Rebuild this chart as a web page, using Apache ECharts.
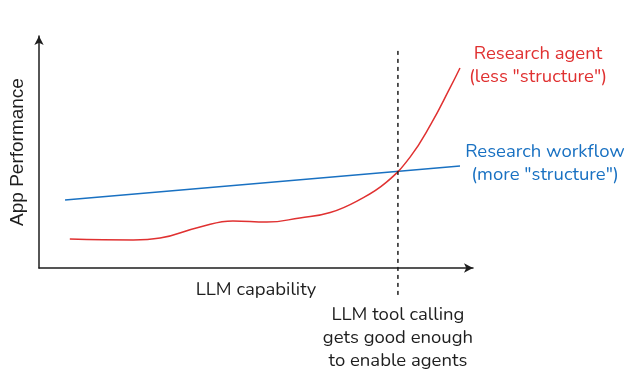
<!DOCTYPE html>
<html>
<head>
<meta charset="utf-8">
<style>
  html, body { margin: 0; padding: 0; background: #fff; }
  #main { width: 637px; height: 376px; }
</style>
</head>
<body>
<div id="main"></div>
<script src="https://cdn.jsdelivr.net/npm/echarts@6/dist/echarts.min.js"></script>
<script>
// sketch units: x and y both run 0..100 along the axes
var agentPoints = [
  [7.1, 12.5], [21.7, 12.1], [27.9, 12.9],
  [37.1, 17.7], [44.7, 20.3], [52.5, 19.8], [60.1, 21.6], [67.1, 23.9],
  [74.0, 29.6], [80.0, 36.9], [85.5, 47.8], [90.3, 62.0], [94.7, 77.6], [97.0, 86.2]
];
var workflowPoints = [[6.0, 29.3], [97.0, 44.0]];
var thresholdX = 82.7;
var thresholdSpan = [-11.6, 94.8];

var xName = 'LLM capability';
var yName = 'App Performance';
var agentLabel = 'Research agent\n(less "structure")';
var workflowLabel = 'Research workflow\n(more "structure")';
var thresholdLabel = 'LLM tool calling\ngets good enough\nto enable agents';

var red = '#e03131';
var blue = '#1971c2';
var ink = '#1e1e1e';
var font = 'Nunito, "Noto Sans", sans-serif';
var fs = 18.5;

var chart = echarts.init(document.getElementById('main'));

var axisBase = {
  type: 'value',
  min: 0,
  max: 100,
  axisLabel: { show: false },
  axisTick: { show: false },
  splitLine: { show: false },
  nameLocation: 'middle',
  nameTextStyle: { color: ink, fontSize: fs, fontFamily: font },
  axisLine: {
    show: true,
    symbol: ['none', 'arrow'],
    symbolSize: [7, 9],
    lineStyle: { color: ink, width: 1.5 }
  }
};

chart.setOption({
  animation: false,
  grid: { left: 39, right: 164, top: 36, bottom: 108, outerBoundsMode: 'none' },
  xAxis: Object.assign({}, axisBase, { name: xName, nameGap: 13 }),
  yAxis: Object.assign({}, axisBase, {
    name: yName, nameGap: 12,
    nameTextStyle: { color: ink, fontSize: 19, fontFamily: '"Liberation Sans", Arial, sans-serif' }
  }),
  series: [
    {
      type: 'line',
      data: workflowPoints,
      showSymbol: false,
      lineStyle: { color: blue, width: 1.5 }
    },
    {
      type: 'line',
      data: agentPoints,
      smooth: 0.45,
      showSymbol: false,
      lineStyle: { color: red, width: 1.5 }
    },
    {
      type: 'line',
      clip: false,
      data: [
        { value: [thresholdX, thresholdSpan[0]], label: {
          show: true, position: 'bottom', distance: 9, formatter: thresholdLabel,
          color: ink, fontSize: fs, fontFamily: font, lineHeight: 23, align: 'center'
        } },
        [thresholdX, thresholdSpan[1]]
      ],
      showSymbol: true,
      symbolSize: 0,
      lineStyle: { color: ink, width: 1.5, type: [4, 4] }
    }
  ],
  graphic: [
    {
      type: 'text', x: 538, y: 43,
      style: { text: agentLabel, fill: red, fontSize: fs, fontFamily: font, lineHeight: 23, align: 'center', verticalAlign: 'top' }
    },
    {
      type: 'text', x: 545, y: 141,
      style: { text: workflowLabel, fill: blue, fontSize: fs, fontFamily: font, lineHeight: 23, align: 'center', verticalAlign: 'top' }
    }
  ]
});
</script>
</body>
</html>
